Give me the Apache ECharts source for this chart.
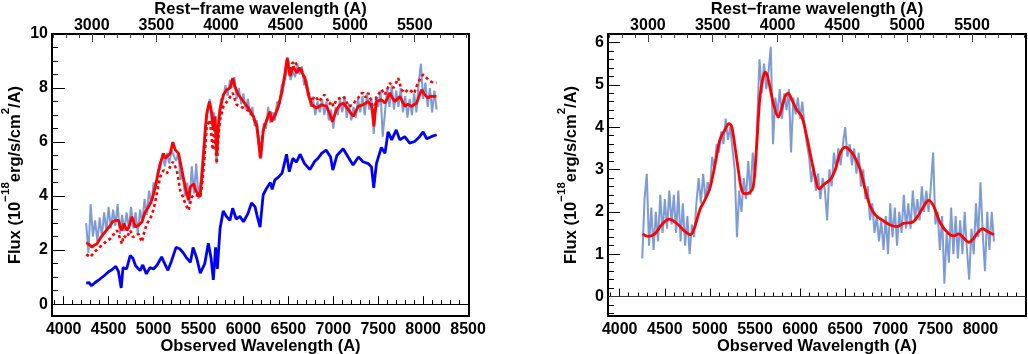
<!DOCTYPE html>
<html>
<head>
<meta charset="utf-8">
<script src="https://cdn.jsdelivr.net/npm/echarts@6/dist/echarts.min.js"></script>
<style>
html,body{margin:0;padding:0;background:#fff;}
#chart{width:1028px;height:354px;}
</style>
</head>
<body>
<div id="chart"></div>
<script>
// redshift used for the top (rest-frame) axis
var ONE_PLUS_Z = 1.4375;

// noisy spectra are sampled on a regular grid
var noiseStart = 4250;
var noiseStep = 25;

var leftNoise = [
	3.0,1.9,3.7,2.5,3.1,2.3,3.2,2.5,3.4,2.7,
	3.6,2.8,3.5,2.9,3.7,2.6,3.3,2.7,3.4,2.8,
	3.6,2.8,3.4,2.6,3.5,3.0,3.9,3.3,4.2,3.7,
	4.5,4.3,5.0,5.0,5.6,5.1,5.6,5.2,5.7,5.5,
	5.3,5.6,4.6,4.8,4.0,4.5,3.7,5.1,4.1,5.2,
	3.9,4.6,5.6,6.6,7.0,7.6,6.6,7.1,5.2,7.0,
	7.6,7.6,8.1,7.7,8.3,8.0,8.4,7.6,8.0,7.4,
	7.8,7.2,7.6,7.0,7.3,6.6,6.8,6.0,5.4,6.7,
	6.5,7.3,6.7,7.1,6.8,7.5,7.4,8.1,8.2,8.5,
	9.0,8.3,8.6,8.4,8.9,8.5,8.8,8.1,8.3,7.9,
	7.3,7.6,7.0,7.5,7.1,7.6,7.0,7.5,6.8,7.2,
	6.5,7.3,7.0,7.6,7.1,7.7,6.9,7.4,6.8,7.3,
	6.9,7.6,7.1,7.7,7.0,7.8,7.2,7.6,6.3,7.7,
	7.3,7.9,6.2,7.1,8.0,7.3,8.1,7.2,7.9,7.3,
	8.0,7.1,7.7,6.9,7.6,7.0,7.8,7.1,8.2,8.9,
	7.6,8.2,7.3,8.0,7.1,7.9,7.2
];

var rightNoise = [
	0.9,2.3,2.9,1.2,2.1,1.1,2.0,1.3,2.4,1.5,
	2.3,1.6,2.5,1.7,2.4,1.5,2.5,1.3,2.2,1.2,
	1.9,1.0,1.7,1.4,2.2,2.8,2.2,2.9,2.3,2.7,
	2.5,3.3,3.0,3.6,3.4,3.9,3.6,4.2,3.7,4.0,
	3.5,3.0,1.4,2.5,2.0,2.8,2.3,3.2,2.4,3.4,
	2.8,4.2,5.6,4.8,5.5,4.9,5.3,5.9,3.6,4.7,
	4.3,4.9,4.2,4.8,4.4,4.9,3.4,4.7,4.3,4.7,
	4.2,4.6,4.0,3.6,3.3,2.7,3.1,2.5,2.9,2.3,
	2.8,2.5,1.8,3.0,2.6,3.4,3.0,3.5,3.1,3.6,
	4.0,3.3,3.6,3.1,3.5,2.9,3.4,2.6,3.0,2.3,
	2.6,1.8,2.2,1.5,1.9,1.3,1.8,1.1,1.9,1.0,
	2.2,1.4,2.1,1.2,2.0,1.5,2.4,1.6,2.2,1.6,
	2.5,1.8,2.3,1.8,2.6,2.0,2.5,2.0,2.6,3.4,
	1.7,2.0,1.1,1.9,0.3,1.5,0.8,2.1,1.0,1.9,
	0.9,1.8,1.0,2.0,1.1,0.4,1.6,1.0,2.2,1.4,
	2.7,1.5,0.6,2.0,1.1,2.0,1.3
];

// left panel, red solid
var leftRedWave = [4252,4280,4315,4340,4370,4410,4444,4480,4519,4545,4574,4611,4630,4648,4668,4685,4705,4730,4759,4780,
	4796,4833,4870,4907,4935,4963,4990,5019,5045,5074,5111,5130,5148,5185,5215,5241,5278,5315,5352,5389,
	5410,5426,5450,5470,5500,5518,5540,5555,5575,5592,5622,5648,5666,5685,5705,5722,5740,5777,5814,5851,
	5881,5905,5944,6000,6055,6111,6148,6170,6188,6205,6222,6259,6296,6314,6351,6389,6426,6463,6488,6505,
	6518,6555,6592,6629,6655,6685,6722,6759,6814,6870,6926,6960,6990,7010,7037,7074,7111,7167,7222,7278,
	7333,7389,7426,7440,7452,7465,7481,7537,7574,7600,7630,7660,7685,7741,7796,7830,7870,7926,7955,7982,
	8018,8056,8080,8111,8148];
var leftRedFlux = [2.27,2.22,2.11,2.18,2.23,2.45,2.60,2.75,2.92,3.05,3.10,3.10,2.85,2.73,2.98,2.95,2.73,2.90,3.23,3.05,
	2.85,2.92,3.04,3.41,3.55,3.72,3.95,4.34,4.75,5.21,5.58,5.40,5.33,5.58,6.00,5.71,5.58,4.96,4.34,3.85,
	4.35,4.40,4.45,4.20,4.05,3.97,4.80,5.46,6.40,7.07,7.50,7.07,6.45,6.95,5.50,6.60,7.20,7.75,7.94,8.00,
	8.37,8.05,7.75,7.50,7.26,6.95,6.58,6.00,5.40,5.90,6.45,6.82,7.13,6.76,7.00,7.32,7.82,8.56,9.12,8.70,
	8.44,8.80,8.56,8.75,8.55,8.37,7.75,7.38,7.26,7.38,7.32,7.05,6.75,6.95,7.20,7.38,7.44,7.20,6.95,7.32,
	7.38,7.50,7.32,7.00,6.58,7.05,7.50,7.57,7.44,7.60,7.82,7.62,7.50,7.69,7.32,7.40,7.32,7.44,7.70,7.94,
	7.75,7.63,7.70,7.69,7.69];

// left panel, red dotted
var leftDotWave = [4252,4296,4340,4380,4444,4480,4519,4560,4593,4620,4648,4668,4700,4741,4770,4800,4833,4870,4900,4926,
	4963,4990,5019,5045,5074,5111,5148,5185,5215,5259,5296,5330,5352,5389,5426,5450,5481,5518,5540,5555,
	5575,5592,5629,5659,5677,5703,5722,5740,5777,5833,5881,5926,6000,6074,6148,6170,6188,6205,6222,6259,
	6296,6314,6351,6389,6426,6463,6488,6518,6540,6574,6610,6640,6666,6700,6722,6759,6790,6814,6840,6870,
	6900,6926,6955,6981,7000,7037,7056,7111,7140,7167,7222,7250,7278,7310,7333,7360,7389,7426,7452,7481,
	7510,7537,7574,7600,7630,7667,7700,7722,7759,7796,7830,7870,7900,7926,7963,8000,8030,8056,8111,8148];
var leftDotFlux = [1.84,1.74,1.92,2.05,2.23,2.35,2.42,2.60,2.73,2.50,2.23,2.54,2.45,2.73,2.48,2.55,2.60,2.30,2.70,2.98,
	3.16,3.40,3.78,4.25,4.71,4.96,4.84,5.09,5.27,4.96,4.22,3.95,3.72,3.47,3.97,4.05,4.03,3.97,4.40,4.96,
	5.80,6.58,6.82,5.71,6.45,5.21,6.20,6.82,7.32,7.57,7.82,7.38,7.26,7.13,6.64,6.00,5.52,6.00,6.51,6.80,
	7.10,6.80,7.00,7.30,7.80,8.50,9.06,8.60,8.90,9.00,8.70,8.75,8.50,8.10,7.82,7.50,7.70,7.63,7.50,7.63,
	7.75,7.63,7.40,7.50,7.32,7.57,7.57,7.69,7.55,7.32,7.38,7.55,7.63,7.80,7.82,7.65,7.82,7.50,6.95,7.69,
	7.80,7.94,7.75,7.95,8.19,8.00,8.20,8.37,7.94,7.82,7.95,7.88,7.80,8.06,8.31,8.50,8.40,8.31,8.19,8.19];

// left panel, blue
var leftBlueWave = [4250,4280,4310,4350,4400,4450,4500,4540,4580,4610,4640,4660,4700,4740,4770,4800,4850,4880,4920,4960,
	5000,5040,5090,5130,5160,5200,5250,5290,5330,5370,5410,5440,5480,5520,5570,5610,5640,5665,5690,5710,
	5740,5775,5810,5850,5880,5920,5960,6000,6050,6090,6130,6150,6185,6220,6260,6300,6320,6350,6390,6430,
	6480,6510,6550,6590,6630,6680,6740,6790,6830,6870,6920,6970,6995,7040,7110,7165,7220,7280,7330,7390,
	7425,7450,7480,7535,7575,7610,7650,7700,7740,7795,7850,7905,7960,8000,8040,8090,8150];
var leftBlueFlux = [0.78,0.80,0.68,0.80,0.92,1.05,1.20,1.28,1.40,1.20,0.60,1.35,1.30,1.80,1.70,1.42,1.24,1.45,1.12,1.35,
	1.30,1.45,1.75,1.45,1.25,1.60,2.10,2.05,1.90,1.70,1.55,2.10,1.70,1.15,1.50,2.25,1.70,0.90,2.10,1.30,
	2.80,3.45,3.25,3.10,3.55,3.15,3.25,3.05,3.35,3.75,3.60,3.30,2.85,4.05,4.30,4.50,4.25,4.60,4.70,4.85,
	5.55,4.90,5.40,5.25,5.55,5.20,4.98,5.27,5.40,5.58,5.70,5.45,4.96,5.50,5.75,5.45,5.15,5.45,5.27,5.20,
	5.08,4.30,5.20,5.80,5.58,6.38,6.08,6.45,6.08,6.20,5.96,6.02,6.20,6.38,6.12,6.20,6.27];

// right panel, red smooth fit
var rightRedWave = [4252,4315,4389,4463,4548,4630,4722,4785,4833,4889,4944,5000,5056,5111,5167,5211,5241,5278,5315,5352,
	5389,5444,5481,5518,5555,5592,5618,5648,5703,5759,5796,5833,5870,5907,5963,6018,6074,6111,6167,6212,
	6260,6334,6389,6445,6500,6556,6612,6667,6723,6778,6834,6908,7000,7075,7149,7241,7315,7382,7427,7482,
	7556,7649,7704,7760,7815,7871,7927,7982,8026,8075,8149];
var rightRedFlux = [1.48,1.42,1.48,1.69,1.83,1.73,1.54,1.46,1.65,2.05,2.28,2.56,3.11,3.70,3.94,4.08,4.02,3.54,2.99,2.52,
	2.43,2.46,2.60,3.54,4.72,5.20,5.30,5.12,4.57,4.24,4.45,4.72,4.80,4.65,4.41,4.25,3.78,3.39,2.83,2.54,
	2.64,2.76,2.99,3.39,3.53,3.45,3.27,2.99,2.52,2.13,1.93,1.81,1.69,1.65,1.73,1.75,1.93,2.17,2.27,2.13,
	1.73,1.48,1.43,1.48,1.38,1.28,1.38,1.54,1.60,1.54,1.46];

var obsTicks = [4000,4500,5000,5500,6000,6500,7000,7500,8000,8500];
var obsLabelsRight = [4000,4500,5000,5500,6000,6500,7000,7500,8000];
var restTicks = [3000,3500,4000,4500,5000,5500];
var fluxTicksLeft = [0,2,4,6,8,10];
var fluxTicksRight = [0,1,2,3,4,5,6];

var FONT = '"Liberation Sans", Arial, Helvetica, sans-serif';

function pairs(w, f){
	var out = new Array();
	for (var i = 0; i < w.length; i++){
		out.push([w[i], f[i]]);
	}
	return out;
}

function gridPairs(f){
	var out = new Array();
	for (var i = 0; i < f.length; i++){
		out.push([noiseStart + i*noiseStep, f[i]]);
	}
	return out;
}

// tick positions from..to every step
function minorValues(from, to, step){
	var out = new Array();
	var n = Math.round((to-from)/step);
	for (var i = 0; i <= n; i++){
		out.push(Math.round((from + i*step)*100)/100);
	}
	return out;
}

function axis(gridIndex, position, min, max, ticks, len, labels, color, extra){
	var margin = 4;
	if (position == 'top') margin = 0;
	if (position == 'bottom') margin = 6;
	var a = {
		gridIndex: gridIndex,
		type: 'value',
		position: position,
		min: min,
		max: max,
		nameMoveOverlap: false,
		axisLine: {show: false},
		splitLine: {show: false},
		axisTick: {show: true, inside: true, length: len, customValues: ticks, lineStyle: {color: color, width: 1}},
		axisLabel: labels ? {show: true, customValues: labels, margin: margin, color: '#000',
			fontFamily: FONT, fontWeight: 'bold', fontSize: 16,
			formatter: function(v){ return String(v); }} : {show: false}
	};
	if (extra){
		for (var k in extra){ a[k] = extra[k]; }
	}
	return a;
}

var yName = '{m|Flux (10}{s|\u221218}{m|erg/s/cm}{s|2}{m|/A)}';
var yNameStyle = {
	rich: {
		m: {fontFamily: FONT, fontWeight: 'bold', fontSize: 16.5, lineHeight: 24, verticalAlign: 'bottom', color: '#000'},
		s: {fontFamily: FONT, fontWeight: 'bold', fontSize: 11.5, lineHeight: 12, verticalAlign: 'top', color: '#000'}
	}
};
var xTitleStyle = {fontFamily: FONT, fontWeight: 'bold', fontSize: 16.5, color: '#000'};

var leftX = [3870, 8510];
var rightX = [3870, 8505];

var xAxes = [
	axis(0, 'bottom', leftX[0], leftX[1], obsTicks, 8, obsTicks, '#000',
		{name: 'Observed Wavelength (A)', nameLocation: 'middle', nameGap: 22, nameTextStyle: xTitleStyle}),
	axis(0, 'bottom', leftX[0], leftX[1], minorValues(3900, 8500, 100), 4, null, '#000'),
	axis(0, 'top', leftX[0]/ONE_PLUS_Z, leftX[1]/ONE_PLUS_Z, restTicks, 8, restTicks, '#444',
		{name: 'Rest\u2212frame wavelength (A)', nameLocation: 'middle', nameGap: 16, nameTextStyle: xTitleStyle}),
	axis(0, 'top', leftX[0]/ONE_PLUS_Z, leftX[1]/ONE_PLUS_Z, minorValues(2700, 5900, 100), 4, null, '#444'),
	axis(1, 'bottom', rightX[0], rightX[1], obsTicks, 8, obsLabelsRight, '#000',
		{name: 'Observed Wavelength (A)', nameLocation: 'middle', nameGap: 22, nameTextStyle: xTitleStyle}),
	axis(1, 'bottom', rightX[0], rightX[1], minorValues(3900, 8500, 100), 4, null, '#000'),
	axis(1, 'top', rightX[0]/ONE_PLUS_Z, rightX[1]/ONE_PLUS_Z, restTicks, 8, restTicks, '#444',
		{name: 'Rest\u2212frame wavelength (A)', nameLocation: 'middle', nameGap: 16, nameTextStyle: xTitleStyle}),
	axis(1, 'top', rightX[0]/ONE_PLUS_Z, rightX[1]/ONE_PLUS_Z, minorValues(2700, 5900, 100), 4, null, '#444')
];

var yAxes = [
	axis(0, 'left', -0.44, 10, fluxTicksLeft, 13, fluxTicksLeft, '#000',
		{name: yName, nameLocation: 'middle', nameRotate: 90, nameGap: 28, nameTextStyle: yNameStyle}),
	axis(0, 'left', -0.44, 10, minorValues(0, 10, 0.5), 6, null, '#000'),
	axis(1, 'left', -0.46, 6.2, fluxTicksRight, 12, fluxTicksRight, '#000',
		{name: yName, nameLocation: 'middle', nameRotate: 90, nameGap: 28, nameTextStyle: yNameStyle}),
	axis(1, 'left', -0.46, 6.2, minorValues(-0.4, 6.2, 0.2), 6, null, '#000')
];

function lineSeries(xi, yi, data, color, width, extra){
	var s = {
		type: 'line',
		xAxisIndex: xi,
		yAxisIndex: yi,
		data: data,
		symbol: 'none',
		showSymbol: false,
		animation: false,
		silent: true,
		lineStyle: {color: color, width: width},
		itemStyle: {color: color}
	};
	if (extra){
		for (var k in extra){ s[k] = extra[k]; }
	}
	return s;
}

function zeroLine(color){
	return {
		silent: true,
		symbol: ['none', 'none'],
		label: {show: false},
		lineStyle: {color: color, width: 1, type: 'solid'},
		data: [{yAxis: 0}]
	};
}

var noiseColor = '#7d9bd5';

var option = {
	animation: false,
	backgroundColor: '#fff',
	grid: [
		{left: 52, top: 34, width: 417, height: 282, outerBoundsMode: 'none', containLabel: false,
			show: true, borderColor: '#000', borderWidth: 2, backgroundColor: 'transparent'},
		{left: 608, top: 34, width: 418, height: 282, outerBoundsMode: 'none', containLabel: false,
			show: true, borderColor: '#000', borderWidth: 2, backgroundColor: 'transparent'}
	],
	xAxis: xAxes,
	yAxis: yAxes,
	series: [
		lineSeries(0, 0, gridPairs(leftNoise), noiseColor, 2, {markLine: zeroLine('#000')}),
		lineSeries(0, 0, pairs(leftDotWave, leftDotFlux), '#ff0000', 2.6,
			{lineStyle: {color: '#ff0000', width: 2.6, type: [3, 3], cap: 'butt'}}),
		lineSeries(0, 0, pairs(leftRedWave, leftRedFlux), '#ff0000', 2.8),
		lineSeries(0, 0, pairs(leftBlueWave, leftBlueFlux), '#0000ff', 2.8),
		lineSeries(4, 2, gridPairs(rightNoise), noiseColor, 2, {markLine: zeroLine('#333')}),
		lineSeries(4, 2, pairs(rightRedWave, rightRedFlux), '#ff0000', 2.8, {smooth: 0.35})
	]
};

var myChart = echarts.init(document.getElementById('chart'), null, {renderer: 'canvas'});
myChart.setOption(option);
</script>
</body>
</html>
